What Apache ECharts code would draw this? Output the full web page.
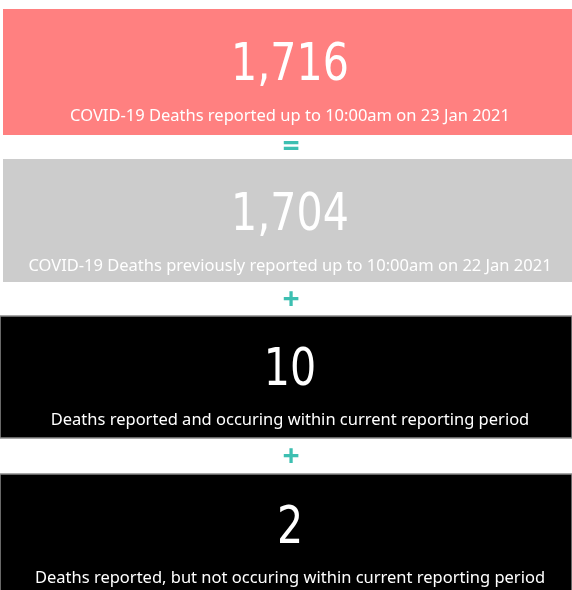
<!DOCTYPE html>
<html lang="en">
    <head>
        <meta charset="UTF-8" />
        <title>COVID-19 Deaths</title>
        <script src="https://cdn.jsdelivr.net/npm/echarts@6/dist/echarts.min.js"></script>
        <style>
            body,
            html {
                margin: 0;
                padding: 0;
                width: 100%;
                height: 100%;
                overflow: hidden;
                background-color: #fff;
            }
            #main {
                width: 572px;
                height: 590px;
            }
        </style>
    </head>
    <body>
        <div id="main"></div>
        <script>
            // card values and captions, top to bottom
            const cardValues = [1716, 1704, 10, 2]
            const cardCaptions = [
                "COVID-19 Deaths reported up to 10:00am on 23 Jan 2021",
                "COVID-19 Deaths previously reported up to 10:00am on 22 Jan 2021",
                "Deaths reported and occuring within current reporting period",
                "Deaths reported, but not occuring within current reporting period",
            ]
            const operators = ["=", "+", "+"]

            const myChart = echarts.init(document.getElementById("main"))

            // layout of the cards (px)
            const cardTops = [9, 159, 316, 474]
            const cardHeights = [126, 123, 122, 120]
            const cardLefts = [3, 3, 0, 0]
            const numOffsets = [57, 57, 55, 55]
            const capOffsets = [107, 107, 104, 104]
            const cardColors = ["#ff8080", "#cccccc", "#000000", "#000000"]
            const cardBorders = [null, null, "#8a8a8a", "#8a8a8a"]
            const opCenters = [147, 300, 457]
            const cx = 290

            const numFont = "'Liberation Sans Narrow', 'DejaVu Sans Condensed', Roboto, sans-serif"
            const capFont = "'Noto Sans', 'Open Sans', sans-serif"

            const elements = []
            cardValues.forEach((v, i) => {
                elements.push({
                    type: "rect",
                    shape: { x: cardLefts[i], y: cardTops[i], width: 572 - cardLefts[i], height: cardHeights[i] },
                    style: {
                        fill: cardColors[i],
                        stroke: cardBorders[i] || cardColors[i],
                        lineWidth: cardBorders[i] ? 1.5 : 0,
                    },
                })
                // big number, squeezed a little to look like the narrow DIN face
                elements.push({
                    type: "text",
                    x: cx,
                    y: cardTops[i] + numOffsets[i],
                    scaleX: 0.88,
                    style: {
                        text: v.toLocaleString("en-US"),
                        fill: "#ffffff",
                        font: "normal 52px " + numFont,
                        align: "center",
                        verticalAlign: "middle",
                    },
                })
                elements.push({
                    type: "text",
                    x: cx,
                    y: cardTops[i] + capOffsets[i],
                    style: {
                        text: cardCaptions[i],
                        fill: "#ffffff",
                        font: "normal 16.5px " + capFont,
                        align: "center",
                        verticalAlign: "middle",
                    },
                })
            })
            operators.forEach((op, i) => {
                elements.push({
                    type: "text",
                    x: cx + 1,
                    y: opCenters[i],
                    style: {
                        text: op,
                        fill: "#3dbfb1",
                        font: "bold 30px " + capFont,
                        align: "center",
                        verticalAlign: "middle",
                    },
                })
            })

            myChart.setOption({
                animation: false,
                graphic: { elements: elements },
            })
        </script>
    </body>
</html>
